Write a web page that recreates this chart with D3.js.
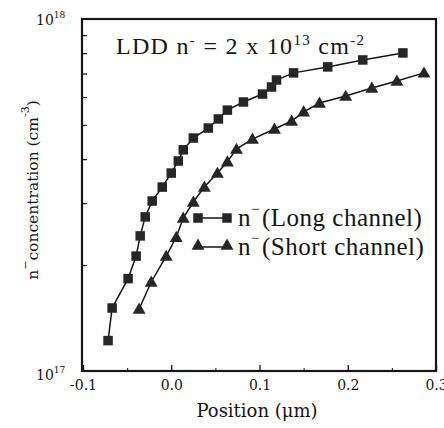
<!DOCTYPE html>
<html>
<head>
<meta charset="utf-8">
<script src="https://cdn.jsdelivr.net/npm/d3@7"></script>
<style>
  body { margin: 0; background: #fff; }
  svg { display: block; }
</style>
</head>
<body>
<div id="chart"></div>
<script>
// data
const longPos = [-0.0716, -0.067, -0.0489, -0.0398, -0.0352, -0.0295, -0.0216, -0.0102, 0.0, 0.008, 0.0136, 0.025, 0.042, 0.0534, 0.0636, 0.0818, 0.1034, 0.1136, 0.1193, 0.1386, 0.1773, 0.217, 0.2625]
const longConc = [1.22e17, 1.51e17, 1.83e17, 2.12e17, 2.42e17, 2.74e17, 3.04e17, 3.33e17, 3.65e17, 3.95e17, 4.25e17, 4.59e17, 4.90e17, 5.20e17, 5.51e17, 5.81e17, 6.12e17, 6.41e17, 6.71e17, 7.03e17, 7.31e17, 7.65e17, 8.01e17]
const shortPos = [-0.0364, -0.0227, -0.0057, 0.0057, 0.0136, 0.025, 0.0375, 0.0523, 0.0636, 0.0739, 0.092, 0.117, 0.1364, 0.15, 0.168, 0.1977, 0.2273, 0.2557, 0.2864]
const shortConc = [1.50e17, 1.79e17, 2.12e17, 2.40e17, 2.72e17, 3.02e17, 3.33e17, 3.65e17, 3.93e17, 4.27e17, 4.56e17, 4.87e17, 5.13e17, 5.45e17, 5.77e17, 6.04e17, 6.37e17, 6.67e17, 7.03e17]
const xTicks = [-0.1, 0.0, 0.1, 0.2, 0.3]
const xMinorTicks = [-0.05, 0.05, 0.15, 0.25]
const yMinorTicks = [2e17, 3e17, 4e17, 5e17, 6e17, 7e17, 8e17, 9e17]

var width = 444
var height = 428
var ink = "#151515"

const svg = d3.select('#chart').append('svg')
  .attr("width", width)
  .attr("height", height)

const x = d3.scaleLinear()
  .domain([-0.1, 0.3])
  .range([83, 436])

const y = d3.scaleLog()
  .domain([1e17, 1e18])
  .range([371, 19])

// ticks (pointing inward)
const xAxis = svg.append("g")
  .attr("transform", "translate(0," + y(1e17) + ")")
  .call(d3.axisBottom(x).tickValues(xTicks).tickSize(-6).tickPadding(9).tickFormat(d => d.toFixed(1)))
xAxis.select(".domain").remove()
xAxis.selectAll("line").attr("stroke", ink).attr("stroke-width", 1.3)
xAxis.selectAll("text")
  .attr("fill", ink)
  .style("font-family", "DejaVu Serif")
  .style("font-size", "14px")

const xMinor = svg.append("g")
  .attr("transform", "translate(0," + y(1e17) + ")")
  .call(d3.axisBottom(x).tickValues(xMinorTicks).tickSize(-3).tickFormat(""))
xMinor.select(".domain").remove()
xMinor.selectAll("line").attr("stroke", ink)

const yMinor = svg.append("g")
  .attr("transform", "translate(" + x(-0.1) + ",0)")
  .call(d3.axisLeft(y).tickValues(yMinorTicks).tickSize(-4).tickFormat(""))
yMinor.select(".domain").remove()
yMinor.selectAll("line").attr("stroke", ink).attr("stroke-width", 1.3)

// frame
svg.append("rect")
  .attr("x", x(-0.1) - 1)
  .attr("y", y(1e18))
  .attr("width", x(0.3) - x(-0.1) + 1)
  .attr("height", y(1e17) - y(1e18))
  .attr("fill", "none")
  .attr("stroke", ink)
  .attr("stroke-width", 2.2)

// y tick labels 10^17, 10^18
const yLab = svg.append("g")
  .selectAll("text")
  .data([1e17, 1e18])
  .enter()
  .append("text")
  .attr("x", 36)
  .attr("y", d => y(d) + (d === 1e17 ? 9 : 6))
  .attr("fill", ink)
  .style("font-family", "DejaVu Serif")
  .style("font-size", "14px")
yLab.append("tspan").text("10")
yLab.append("tspan")
  .attr("dy", -7)
  .style("font-size", "9px")
  .text(d => Math.round(Math.log10(d)))

// lines + markers
const line = d3.line()
  .x(d => x(d[0]))
  .y(d => y(d[1]))

const longData = longPos.map((p, i) => [p, longConc[i]])
const shortData = shortPos.map((p, i) => [p, shortConc[i]])

svg.append("path")
  .datum(longData)
  .attr("d", line)
  .attr("fill", "none")
  .attr("stroke", ink)
  .attr("stroke-width", 1.5)

svg.append("path")
  .datum(shortData)
  .attr("d", line)
  .attr("fill", "none")
  .attr("stroke", ink)
  .attr("stroke-width", 1.5)

const sq = 9.5
svg.append("g")
  .selectAll("rect")
  .data(longData)
  .enter()
  .append("rect")
  .attr("x", d => x(d[0]) - sq / 2)
  .attr("y", d => y(d[1]) - sq / 2)
  .attr("width", sq)
  .attr("height", sq)
  .attr("fill", "#262626")

const tri = d3.symbol().type(d3.symbolTriangle).size(72)
svg.append("g")
  .selectAll("path")
  .data(shortData)
  .enter()
  .append("path")
  .attr("d", tri)
  .attr("transform", d => "translate(" + x(d[0]) + "," + (y(d[1]) + 1) + ")")
  .attr("fill", "#262626")

// legend
const legendRows = [
  { label: "(Long channel)", kind: "square", yy: 218 },
  { label: "(Short channel)", kind: "triangle", yy: 247 }
]
const leg = svg.append("g")
legendRows.forEach(r => {
  leg.append("line")
    .attr("x1", 198).attr("x2", 227)
    .attr("y1", r.yy).attr("y2", r.yy)
    .attr("stroke", ink).attr("stroke-width", 1.5)
  ;[198, 227].forEach(px => {
    if (r.kind === "square") {
      leg.append("rect")
        .attr("x", px - sq / 2).attr("y", r.yy - sq / 2)
        .attr("width", sq).attr("height", sq)
        .attr("fill", "#262626")
    } else {
      leg.append("path")
        .attr("d", tri)
        .attr("transform", "translate(" + px + "," + (r.yy - 1) + ")")
        .attr("fill", "#262626")
    }
  })
  const t = leg.append("text")
    .attr("x", 238)
    .attr("y", r.yy + 8)
    .attr("fill", ink)
    .style("font-family", "Liberation Serif")
    .style("font-size", "25px")
    .style("letter-spacing", "0.5px")
  t.append("tspan").text("n")
  t.append("tspan").attr("dy", -12).style("font-size", "15px").text("\u2212")
  t.append("tspan").attr("dy", 12).attr("dx", 2).text(r.label)
})

// title inside plot
const title = svg.append("text")
  .attr("x", 116)
  .attr("y", 54)
  .attr("fill", ink)
  .style("font-family", "Liberation Serif")
  .style("font-size", "24px")
  .style("letter-spacing", "1.3px")
title.append("tspan").text("LDD n")
title.append("tspan").attr("dy", -9).style("font-size", "15px").text("-")
title.append("tspan").attr("dy", 9).text(" = 2 x 10")
title.append("tspan").attr("dy", -9).style("font-size", "15px").text("13")
title.append("tspan").attr("dy", 9).text(" cm")
title.append("tspan").attr("dy", -9).style("font-size", "15px").text("-2")

// x axis title
svg.append("text")
  .attr("x", 257)
  .attr("y", 417)
  .attr("text-anchor", "middle")
  .attr("fill", ink)
  .style("font-family", "DejaVu Serif")
  .style("font-size", "18px")
  .text("Position (\u03bcm)")

// y axis title
const yTitle = svg.append("text")
  .attr("transform", "translate(38,190)rotate(-90)")
  .attr("text-anchor", "middle")
  .attr("fill", ink)
  .style("font-family", "DejaVu Serif")
  .style("font-size", "15.5px")
yTitle.append("tspan").text("n")
yTitle.append("tspan").attr("dy", -9).style("font-size", "11px").text("\u2212")
yTitle.append("tspan").attr("dy", 9).text("concentration (cm")
yTitle.append("tspan").attr("dy", -9).style("font-size", "11px").text("-3")
yTitle.append("tspan").attr("dy", 9).text(")")
</script>
</body>
</html>
